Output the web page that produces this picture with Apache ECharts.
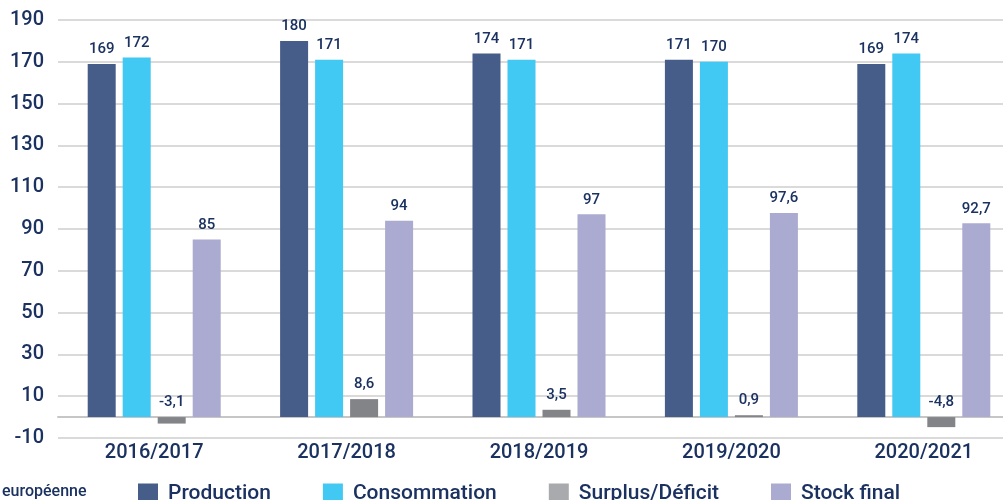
<!DOCTYPE html>
<html>
<head>
<meta charset="utf-8">
<script src="https://cdn.jsdelivr.net/npm/echarts@6/dist/echarts.min.js"></script>
<style>
  html, body { margin: 0; padding: 0; background: #fff; }
  #chart { width: 1003px; height: 500px; }
</style>
</head>
<body>
<div id="chart"></div>
<script>
const seasons = ['2016/2017', '2017/2018', '2018/2019', '2019/2020', '2020/2021']
const production = [169, 180, 174, 171, 169]
const consommation = [172, 171, 171, 170, 174]
const surplus = [-3.1, 8.6, 3.5, 0.9, -4.8]
const stockFinal = [85, 94, 97, 97.6, 92.7]

const navy = '#1b3261'
const font = 'Roboto'

const chart = echarts.init(document.getElementById('chart'))

function barSeries (name, data, color) {
  return {
    name: name,
    type: 'bar',
    data: data,
    barWidth: 28,
    barGap: '25%',
    itemStyle: { color: color },
    label: {
      show: true,
      position: 'top',
      distance: 7,
      color: navy,
      fontFamily: font,
      fontWeight: 500,
      fontSize: 15,
      formatter: p => String(p.value).replace('.', ',')
    }
  }
}

const option = {
  animation: false,
  grid: { left: 58, right: -17, top: 20, bottom: 62, outerBoundsMode: 'none' },
  xAxis: {
    type: 'category',
    data: seasons,
    axisTick: { show: false },
    axisLine: { onZero: true, lineStyle: { color: '#c6c6c6', width: 2 } },
    axisLabel: {
      margin: 5,
      color: navy,
      fontFamily: font,
      fontWeight: 500,
      fontSize: 20
    }
  },
  yAxis: {
    type: 'value',
    min: -10,
    max: 190,
    interval: 20,
    axisLine: { show: false },
    axisTick: { show: false },
    splitLine: { lineStyle: { color: '#dadada', width: 2 } },
    axisLabel: {
      margin: 14,
      color: navy,
      fontFamily: font,
      fontWeight: 500,
      fontSize: 20
    }
  },
  legend: {
    top: 478,
    left: 133,
    itemWidth: 20,
    itemHeight: 20,
    itemGap: 52,
    icon: 'rect',
    textStyle: {
      color: navy,
      fontFamily: font,
      fontWeight: 500,
      fontSize: 21,
      padding: [0, 0, 0, 5]
    },
    data: [
      { name: 'Production' },
      { name: 'Consommation' },
      { name: 'Surplus/Déficit', itemStyle: { color: '#a9aaae' } },
      { name: 'Stock final' }
    ]
  },
  graphic: [{
    type: 'text',
    left: 2,
    top: 484,
    style: {
      text: 'européenne',
      fill: navy,
      font: '500 16px Roboto'
    }
  }],
  series: [
    barSeries('Production', production, '#465d8a'),
    barSeries('Consommation', consommation, '#41c8f3'),
    barSeries('Surplus/Déficit', surplus, '#838488'),
    barSeries('Stock final', stockFinal, '#abaad0')
  ]
}

chart.setOption(option)
</script>
</body>
</html>
